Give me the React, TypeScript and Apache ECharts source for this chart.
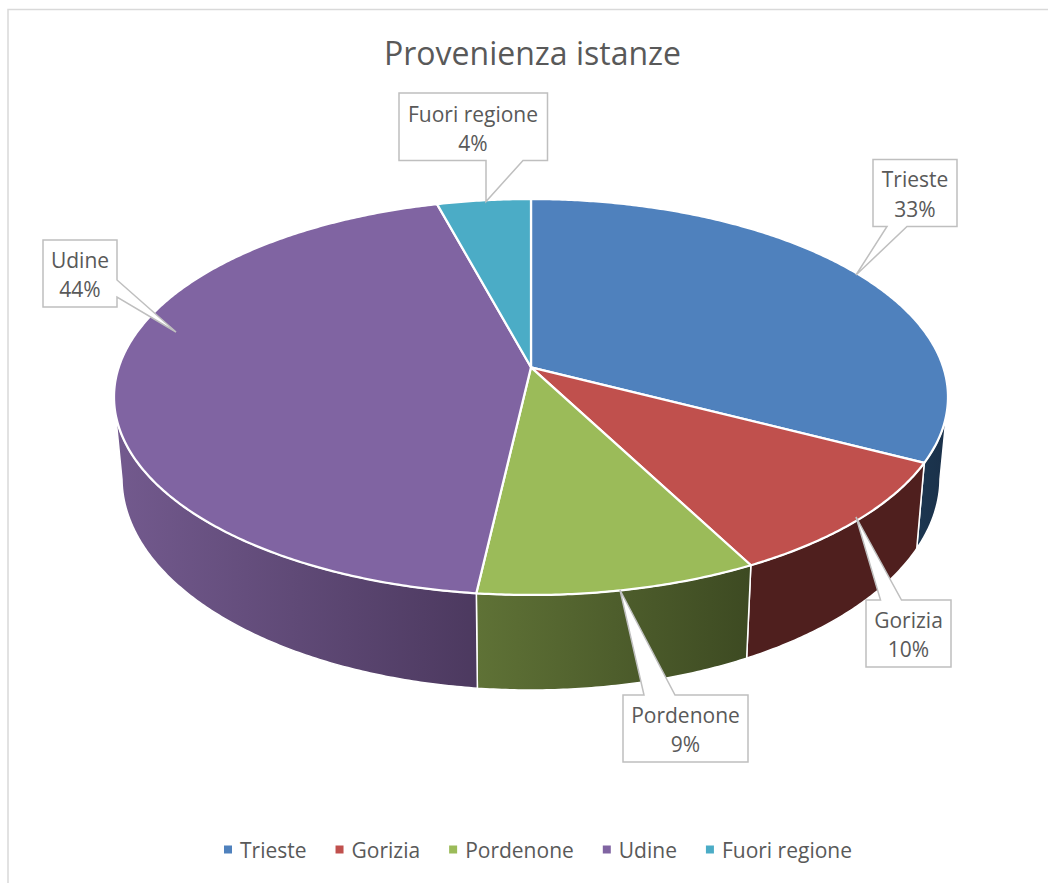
import React, { useEffect, useRef } from "react";
import * as echarts from "echarts";

const titleText = "Provenienza istanze";
const categories = ["Trieste", "Gorizia", "Pordenone", "Udine", "Fuori regione"];
const values = [32.6, 9.75, 9.45, 44.0, 4.2];

const topColors = ["#4f81bd", "#c0504d", "#9bbb59", "#8064a2", "#4bacc6"];
const wallFrom = ["#1c3650", "#4f1f1e", "#5f7236", "#735a8e", "#2b6c7e"];
const wallTo = ["#1a3049", "#4f1f1e", "#3d4a22", "#4c395f", "#2b6c7e"];

const FONT = '"Open Sans", sans-serif';
const TEXT = "#595959";
const GRID = "#d9d9d9";
const CALLOUT = "#bfbfbf";

// pie geometry (page pixels)
const CX = 531;
const TOP_CY = 397;
const TOP_RX = 417;
const TOP_RY = 198;
const BOT_CY = 478;
const BOT_RX = 409;
const BOT_RY = 212;
const TILT = 0.15;

// callout outlines and text anchors
const callouts = [
  { cx: 915, y: 179, pts: [[873, 159.5], [957, 159.5], [957, 226.5], [907, 226.5], [856, 275], [887, 226.5], [873, 226.5]] },
  { cx: 908.5, y: 619.5, pts: [[866, 600], [880.5, 600], [856, 517], [901.5, 600], [951, 600], [951, 667], [866, 667]] },
  { cx: 685.5, y: 714.5, pts: [[623, 695], [644, 695], [620, 590], [675, 695], [748, 695], [748, 762], [623, 762]] },
  { cx: 80, y: 259.5, pts: [[43, 240], [117, 240], [117, 280], [176, 332], [117, 297], [117, 307], [43, 307]] },
  { cx: 473, y: 113.5, pts: [[399, 93], [547.5, 93], [547.5, 160.5], [523, 160.5], [486, 201.5], [486, 160.5], [399, 160.5]] },
];

const total = values.reduce((a, b) => a + b, 0);

function disk(deg: number) {
  const t = (deg * Math.PI) / 180;
  const u = Math.sin(t);
  const v = -Math.cos(t);
  const d = 1 - TILT * v;
  return { u: (u * Math.sqrt(1 - TILT * TILT)) / d, v: (v - TILT) / d };
}
const topPt = (p: { u: number; v: number }) => [CX + TOP_RX * p.u, TOP_CY + TOP_RY * p.v];
const botPt = (p: { u: number; v: number }) => [CX + BOT_RX * p.u, BOT_CY + BOT_RY * p.v];

function makeRender(index: number) {
  const before = values.slice(0, index).reduce((a, b) => a + b, 0);
  const a0 = (before / total) * 360;
  const a1 = ((before + values[index]) / total) * 360;
  return () => {
    const rim: { u: number; v: number }[] = [];
    const steps = Math.max(4, Math.ceil((a1 - a0) / 0.5));
    for (let i = 0; i <= steps; i++) rim.push(disk(a0 + ((a1 - a0) * i) / steps));
    const children: any[] = [];
    const front = rim.filter((p) => p.v >= 0);
    if (front.length > 1) {
      const pts = front.map(topPt).concat(front.slice().reverse().map(botPt));
      children.push({
        type: "polygon",
        z2: 1,
        shape: { points: pts },
        style: {
          fill: new echarts.graphic.LinearGradient(0, 0, 1, 0, [
            { offset: 0, color: wallFrom[index] },
            { offset: 1, color: wallTo[index] },
          ]),
          stroke: "#ffffff",
          lineWidth: 1.5,
        },
      });
    }
    children.push({
      type: "polygon",
      z2: 5,
      shape: { points: [topPt({ u: 0, v: -TILT })].concat(rim.map(topPt)) },
      style: { fill: topColors[index], stroke: "#ffffff", lineWidth: 2.25, lineJoin: "round" },
    });
    return { type: "group", children };
  };
}

export default function App() {
  const ref = useRef<HTMLDivElement>(null);
  useEffect(() => {
    const chart = echarts.init(ref.current!, undefined, { renderer: "svg" });
    const graphics: any[] = [
      {
        type: "polyline",
        z: 1,
        shape: { points: [[8, 883], [8, 9.5], [1048, 9.5]] },
        style: { fill: "none", stroke: GRID, lineWidth: 1.5 },
      },
    ];
    callouts.forEach((c, i) => {
      const pct = Math.round((values[i] / total) * 100);
      graphics.push({
        type: "polygon",
        z: 20,
        shape: { points: c.pts },
        style: { fill: "#ffffff", stroke: CALLOUT, lineWidth: 1.5 },
      });
      graphics.push({
        type: "text",
        z: 21,
        x: c.cx,
        y: c.y - 14.75,
        silent: true,
        style: {
          text: categories[i] + "\n" + pct + "%",
          fontFamily: FONT,
          fontSize: 21,
          lineHeight: 29.5,
          fill: TEXT,
          align: "center",
          verticalAlign: "top",
        },
      });
    });
    chart.setOption({
      animation: false,
      backgroundColor: "#ffffff",
      color: topColors,
      title: {
        text: titleText,
        left: 379,
        top: 31,
        textStyle: { fontFamily: FONT, fontSize: 32, fontWeight: "normal", color: TEXT },
      },
      legend: {
        data: categories,
        left: 219,
        top: 834,
        icon: "rect",
        itemWidth: 8,
        itemHeight: 8,
        itemGap: 29,
        selectedMode: false,
        textStyle: { fontFamily: FONT, fontSize: 21, color: TEXT, padding: [0, 0, 0, 3] },
      },
      series: categories.map((name, i) => ({
        type: "custom",
        name,
        coordinateSystem: "none",
        silent: true,
        itemStyle: { color: topColors[i] },
        data: [values[i]],
        renderItem: makeRender(i),
      })),
      graphic: { elements: graphics },
    });
    return () => chart.dispose();
  }, []);
  return (
    <div
      ref={ref}
      style={{ position: "absolute", left: 0, top: 0, width: 1048, height: 883 }}
    />
  );
}
